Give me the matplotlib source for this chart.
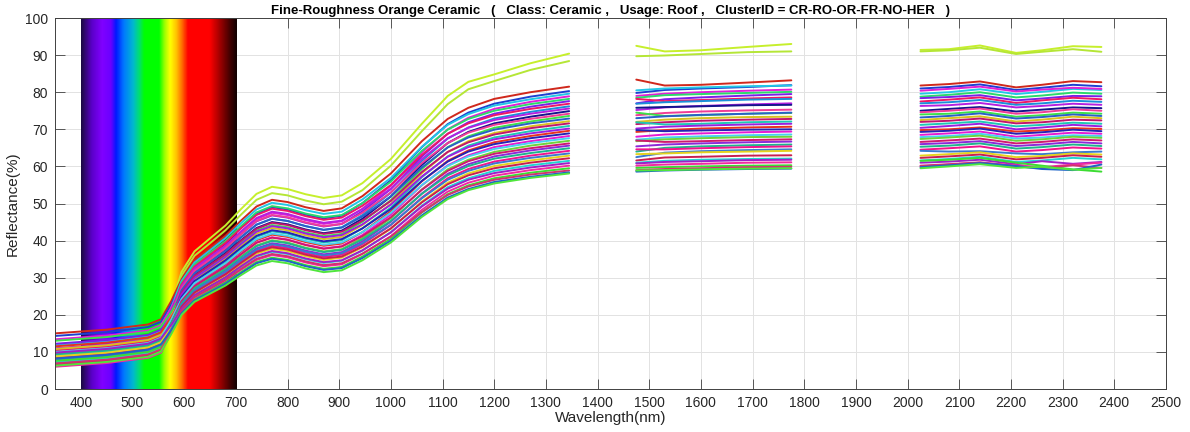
import matplotlib

matplotlib.use("Agg")
import matplotlib.pyplot as plt
import numpy as np
from matplotlib.colors import LinearSegmentedColormap

plt.rcParams["font.family"] = ["Liberation Sans", "DejaVu Sans"]

TITLE = ("Fine-Roughness Orange Ceramic   (   Class: Ceramic ,   Usage: Roof ,   "
         "ClusterID = CR-RO-OR-FR-NO-HER   )")

# wavelength nodes (nm) of the three usable bands, water-absorption gaps left out
WL_VNIR = [350, 450, 530, 555, 575, 595, 620, 650, 680, 710, 740, 770,
           800, 835, 870, 905, 945, 1000, 1060, 1110, 1150, 1200, 1270, 1345]
WL_SWIR1 = [1475, 1530, 1600, 1690, 1775]
WL_SWIR2 = [2025, 2080, 2140, 2210, 2260, 2320, 2375]

# reflectance (%) per sample, one row per spectrum
REFL_VNIR = [
    [10.5, 11.5, 12.9, 14.3, 22.4, 31.6, 37.1, 40.6, 44.1, 48.5, 52.6, 54.5, 53.9, 52.5, 51.5, 52.2, 55.5, 62.0, 71.5, 79.0, 82.8, 84.8, 87.8, 90.4],
    [9.0, 10.0, 11.4, 12.8, 21.2, 30.6, 35.9, 39.3, 42.8, 47.0, 51.0, 52.8, 52.2, 50.8, 49.8, 50.5, 53.6, 60.2, 69.5, 76.8, 80.8, 83.0, 86.0, 88.4],
    [15.0, 16.0, 17.4, 18.8, 23.7, 29.6, 34.7, 38.0, 41.3, 45.4, 49.2, 51.0, 50.4, 49.0, 48.0, 48.7, 52.0, 58.1, 66.8, 72.8, 75.8, 78.2, 80.0, 81.5],
    [14.3, 15.3, 16.7, 18.1, 22.8, 28.4, 33.3, 36.5, 39.7, 43.6, 47.3, 49.0, 48.4, 47.0, 46.0, 46.7, 50.1, 56.3, 65.2, 71.4, 74.5, 76.9, 78.8, 80.3],
    [11.8, 12.8, 14.2, 15.6, 21.9, 29.1, 34.1, 37.4, 40.7, 44.7, 48.4, 50.2, 49.6, 48.2, 47.2, 47.8, 51.1, 56.9, 65.3, 71.2, 74.1, 76.4, 78.1, 79.6],
    [13.4, 14.4, 15.8, 17.2, 21.9, 27.6, 32.3, 35.4, 38.5, 42.3, 45.8, 47.5, 46.9, 45.5, 44.5, 45.2, 48.6, 54.8, 63.8, 70.0, 73.1, 75.5, 77.4, 78.9],
    [9.6, 10.6, 12.0, 13.4, 20.5, 28.6, 33.5, 36.7, 39.9, 43.9, 47.6, 49.3, 48.7, 47.3, 46.3, 46.9, 50.1, 55.9, 64.2, 69.9, 72.8, 75.0, 76.8, 78.2],
    [12.2, 13.2, 14.6, 16.0, 21.1, 27.1, 31.8, 34.9, 37.9, 41.7, 45.2, 46.8, 46.2, 44.8, 43.8, 44.5, 47.9, 53.9, 62.7, 68.8, 71.9, 74.2, 76.1, 77.6],
    [10.4, 11.4, 12.8, 14.2, 20.7, 28.2, 33.0, 36.2, 39.4, 43.3, 46.9, 48.6, 48.0, 46.6, 45.6, 46.2, 49.4, 55.0, 63.1, 68.8, 71.6, 73.8, 75.5, 76.9],
    [8.9, 9.9, 11.3, 12.7, 19.2, 26.6, 31.2, 34.2, 37.2, 40.9, 44.3, 45.9, 45.3, 43.9, 42.9, 43.6, 46.9, 52.9, 61.5, 67.5, 70.5, 72.9, 74.7, 76.2],
    [11.0, 12.0, 13.4, 14.8, 20.8, 27.7, 32.5, 35.6, 38.7, 42.5, 46.1, 47.8, 47.2, 45.8, 44.8, 45.4, 48.5, 54.0, 62.0, 67.6, 70.4, 72.5, 74.2, 75.6],
    [7.8, 8.8, 10.2, 11.6, 18.4, 26.1, 30.6, 33.5, 36.5, 40.1, 43.4, 45.0, 44.4, 43.0, 42.0, 42.7, 45.9, 51.9, 60.4, 66.3, 69.3, 71.6, 73.4, 74.9],
    [9.9, 10.9, 12.3, 13.7, 20.0, 27.2, 31.9, 34.9, 38.0, 41.7, 45.3, 46.9, 46.3, 44.9, 43.9, 44.5, 47.5, 53.0, 60.9, 66.3, 69.1, 71.2, 72.8, 74.2],
    [13.0, 14.0, 15.4, 16.8, 20.8, 25.6, 30.1, 32.9, 35.8, 39.3, 42.7, 44.2, 43.6, 42.2, 41.2, 41.8, 45.1, 50.9, 59.3, 65.2, 68.1, 70.4, 72.1, 73.6],
    [8.4, 9.4, 10.8, 12.2, 19.0, 26.6, 31.2, 34.2, 37.2, 40.9, 44.3, 45.9, 45.3, 43.9, 42.9, 43.5, 46.5, 51.9, 59.7, 65.1, 67.8, 69.9, 71.6, 72.9],
    [10.8, 11.8, 13.2, 14.6, 19.5, 25.2, 29.5, 32.3, 35.2, 38.6, 41.9, 43.4, 42.8, 41.4, 40.4, 41.0, 44.2, 49.9, 58.2, 63.9, 66.8, 69.0, 70.8, 72.2],
    [7.2, 8.2, 9.6, 11.0, 18.1, 26.0, 30.5, 33.4, 36.3, 39.9, 43.2, 44.8, 44.2, 42.8, 41.8, 42.4, 45.4, 50.7, 58.5, 63.9, 66.5, 68.6, 70.3, 71.6],
    [9.2, 10.2, 11.6, 13.0, 18.4, 24.7, 28.9, 31.7, 34.4, 37.8, 41.0, 42.5, 41.9, 40.5, 39.5, 40.1, 43.3, 48.9, 57.1, 62.7, 65.6, 67.8, 69.5, 70.9],
    [6.8, 7.8, 9.2, 10.6, 17.6, 25.5, 29.9, 32.7, 35.6, 39.1, 42.4, 43.9, 43.3, 41.9, 40.9, 41.5, 44.4, 49.7, 57.3, 62.6, 65.2, 67.3, 68.9, 70.2],
    [11.5, 12.5, 13.9, 15.3, 19.3, 24.1, 28.3, 31.0, 33.7, 37.0, 40.1, 41.6, 41.0, 39.6, 38.6, 39.2, 42.3, 47.9, 56.0, 61.5, 64.3, 66.5, 68.2, 69.6],
    [8.0, 9.0, 10.4, 11.8, 17.9, 24.8, 29.1, 31.9, 34.7, 38.1, 41.3, 42.8, 42.2, 40.8, 39.8, 40.4, 43.3, 48.5, 56.1, 61.3, 64.0, 66.0, 67.6, 68.9],
    [7.0, 8.0, 9.4, 10.8, 16.9, 23.7, 27.8, 30.5, 33.1, 36.4, 39.5, 40.9, 40.3, 38.9, 37.9, 38.5, 41.5, 47.0, 54.9, 60.3, 63.0, 65.2, 66.8, 68.2],
    [10.0, 11.0, 12.4, 13.8, 18.7, 24.3, 28.5, 31.2, 33.9, 37.3, 40.4, 41.9, 41.3, 39.9, 38.9, 39.5, 42.3, 47.5, 55.0, 60.1, 62.7, 64.7, 66.3, 67.6],
    [6.5, 7.5, 8.9, 10.3, 16.4, 23.3, 27.3, 29.9, 32.5, 35.7, 38.7, 40.1, 39.5, 38.1, 37.1, 37.7, 40.7, 46.0, 53.8, 59.2, 61.8, 63.9, 65.6, 66.9],
    [8.6, 9.6, 11.0, 12.4, 17.7, 23.7, 27.7, 30.4, 33.0, 36.3, 39.4, 40.8, 40.2, 38.8, 37.8, 38.4, 41.2, 46.3, 53.7, 58.8, 61.4, 63.4, 64.9, 66.2],
    [7.5, 8.5, 9.9, 11.3, 16.7, 22.8, 26.7, 29.3, 31.8, 35.0, 37.9, 39.3, 38.7, 37.3, 36.3, 36.9, 39.8, 45.1, 52.7, 58.0, 60.6, 62.7, 64.3, 65.6],
    [9.4, 10.4, 11.8, 13.2, 17.8, 23.1, 27.1, 29.7, 32.3, 35.5, 38.5, 39.9, 39.3, 37.9, 36.9, 37.5, 40.3, 45.3, 52.6, 57.6, 60.1, 62.1, 63.6, 64.9],
    [6.2, 7.2, 8.6, 10.0, 15.9, 22.4, 26.2, 28.8, 31.3, 34.4, 37.2, 38.6, 38.0, 36.6, 35.6, 36.2, 39.0, 44.2, 51.6, 56.8, 59.3, 61.3, 62.9, 64.2],
    [7.9, 8.9, 10.3, 11.7, 16.8, 22.6, 26.5, 29.1, 31.6, 34.7, 37.6, 39.0, 38.4, 37.0, 36.0, 36.6, 39.3, 44.3, 51.4, 56.4, 58.8, 60.8, 62.3, 63.5],
    [8.8, 9.8, 11.2, 12.6, 17.0, 21.9, 25.7, 28.2, 30.6, 33.6, 36.5, 37.8, 37.2, 35.8, 34.8, 35.4, 38.2, 43.2, 50.5, 55.6, 58.1, 60.1, 61.6, 62.9],
    [6.6, 7.6, 9.0, 10.4, 16.0, 22.2, 26.0, 28.5, 30.9, 34.0, 36.9, 38.2, 37.6, 36.2, 35.2, 35.7, 38.4, 43.3, 50.3, 55.2, 57.6, 59.5, 61.0, 62.2],
    [7.3, 8.3, 9.7, 11.1, 16.0, 21.5, 25.2, 27.6, 30.0, 32.9, 35.7, 37.0, 36.4, 35.0, 34.0, 34.6, 37.3, 42.3, 49.4, 54.4, 56.8, 58.8, 60.3, 61.5],
    [9.8, 10.8, 12.2, 13.6, 17.3, 21.6, 25.3, 27.7, 30.1, 33.1, 35.9, 37.2, 36.6, 35.2, 34.2, 34.7, 37.4, 42.2, 49.2, 54.0, 56.4, 58.2, 59.7, 60.9],
    [6.0, 7.0, 8.4, 9.8, 15.1, 20.9, 24.5, 26.9, 29.2, 32.1, 34.8, 36.1, 35.5, 34.1, 33.1, 33.6, 36.4, 41.2, 48.3, 53.2, 55.6, 57.5, 59.0, 60.2],
    [7.6, 8.6, 10.0, 11.4, 15.7, 20.5, 24.1, 26.4, 28.7, 31.5, 34.2, 35.4, 34.8, 33.4, 32.4, 32.9, 35.7, 40.5, 47.6, 52.5, 54.9, 56.8, 58.3, 59.5],
    [6.9, 7.9, 9.3, 10.7, 15.6, 21.1, 24.8, 27.1, 29.5, 32.4, 35.1, 36.4, 35.8, 34.4, 33.4, 33.9, 36.5, 41.1, 47.7, 52.3, 54.6, 56.4, 57.8, 58.9],
    [8.2, 9.2, 10.6, 12.0, 15.9, 20.4, 23.9, 26.1, 28.4, 31.2, 33.9, 35.1, 34.5, 33.1, 32.1, 32.6, 35.3, 40.0, 46.8, 51.6, 53.9, 55.8, 57.2, 58.4],
    [6.3, 7.3, 8.7, 10.1, 14.8, 20.0, 23.5, 25.7, 27.9, 30.7, 33.3, 34.5, 33.9, 32.5, 31.5, 32.0, 34.7, 39.5, 46.4, 51.2, 53.6, 55.4, 56.9, 58.1],
]

REFL_SWIR1 = [
    [92.5, 91.0, 91.3, 92.2, 93.0], [89.7, 89.9, 90.3, 90.8, 91.0],
    [83.4, 81.8, 82.0, 82.6, 83.2], [79.8, 80.6, 81.0, 81.4, 81.9],
    [80.5, 81.0, 81.3, 81.6, 81.8], [79.0, 79.6, 80.0, 80.4, 80.7],
    [78.5, 79.2, 79.5, 79.8, 80.1], [77.0, 78.1, 78.6, 79.1, 79.5],
    [78.2, 77.6, 77.9, 78.3, 78.6], [76.9, 77.3, 77.6, 78.0, 78.2],
    [75.2, 75.9, 76.3, 76.7, 77.0], [75.8, 76.0, 76.2, 76.5, 76.6],
    [73.8, 74.4, 74.8, 75.1, 75.3], [74.5, 73.6, 73.8, 74.2, 74.4],
    [73.0, 73.5, 73.9, 74.2, 74.5], [72.0, 72.6, 73.0, 73.3, 73.4],
    [71.4, 71.9, 72.3, 72.6, 72.8], [71.9, 71.3, 71.5, 71.9, 72.1],
    [70.2, 70.7, 71.0, 71.3, 71.5], [69.3, 69.8, 70.2, 70.5, 70.7],
    [69.8, 69.5, 69.7, 69.9, 70.0], [68.0, 68.6, 68.9, 69.2, 69.4],
    [67.2, 67.8, 68.1, 68.4, 68.6], [66.8, 67.3, 67.6, 67.9, 68.0],
    [67.0, 66.6, 66.8, 67.1, 67.3], [65.4, 65.9, 66.2, 66.5, 66.7],
    [64.0, 65.0, 65.4, 65.7, 65.9], [64.6, 64.6, 64.9, 65.2, 65.4],
    [62.5, 63.7, 64.1, 64.4, 64.6], [63.3, 63.5, 63.8, 64.0, 64.2],
    [61.6, 62.4, 62.6, 62.9, 63.0], [61.0, 61.5, 61.8, 62.0, 62.1],
    [60.8, 61.2, 61.4, 61.7, 61.8], [60.2, 60.5, 60.7, 61.0, 61.1],
    [59.6, 59.8, 60.0, 60.2, 60.3], [59.0, 59.3, 59.5, 59.8, 59.9],
    [58.6, 58.9, 59.1, 59.3, 59.4], [58.9, 59.0, 59.2, 59.4, 59.5],
]

REFL_SWIR2 = [
    [91.4, 91.6, 92.6, 90.6, 91.3, 92.4, 92.2], [91.0, 91.3, 92.0, 90.3, 90.9, 91.6, 90.9],
    [81.8, 82.2, 82.9, 81.3, 82.0, 83.0, 82.7], [81.0, 81.4, 82.1, 80.6, 81.2, 82.0, 81.6],
    [79.6, 80.0, 80.8, 79.5, 80.1, 80.9, 80.6], [80.4, 80.9, 81.5, 80.2, 80.7, 81.2, 80.9],
    [78.8, 79.3, 80.0, 78.6, 79.1, 79.9, 79.6], [78.4, 78.7, 79.2, 77.8, 78.3, 79.0, 78.9],
    [77.5, 78.0, 78.6, 77.1, 77.8, 78.5, 78.1], [77.0, 77.3, 77.9, 76.6, 77.0, 77.7, 77.4],
    [76.3, 76.5, 77.1, 75.9, 76.3, 76.9, 76.6], [75.0, 75.5, 76.0, 74.8, 75.3, 75.9, 75.7],
    [74.6, 75.0, 75.6, 74.2, 74.6, 75.4, 75.0], [74.0, 74.2, 74.8, 73.4, 73.8, 74.5, 74.2],
    [73.2, 73.6, 74.3, 72.9, 73.3, 74.0, 73.6], [72.5, 73.0, 73.5, 72.1, 72.6, 73.4, 73.0],
    [72.0, 72.3, 72.9, 71.6, 71.9, 72.6, 72.4], [71.2, 71.6, 72.1, 70.8, 71.2, 71.8, 71.5],
    [70.4, 70.9, 71.5, 70.0, 70.5, 71.2, 70.8], [69.8, 70.0, 70.5, 69.4, 69.7, 70.3, 70.1],
    [69.3, 69.6, 70.2, 68.8, 69.2, 69.9, 69.5], [68.5, 68.9, 69.4, 68.0, 68.5, 69.1, 68.8],
    [67.9, 68.2, 68.8, 67.5, 67.8, 68.4, 68.2], [67.4, 67.8, 68.3, 66.9, 67.3, 68.0, 67.7],
    [66.6, 67.0, 67.5, 66.2, 66.6, 67.3, 67.0], [66.0, 66.3, 66.8, 65.5, 65.9, 66.6, 66.2],
    [65.3, 65.6, 66.2, 64.8, 65.2, 65.9, 65.5], [64.5, 64.9, 65.4, 64.0, 64.4, 65.1, 64.8],
    [64.2, 64.0, 64.1, 63.5, 63.3, 63.8, 64.0], [62.9, 63.3, 63.8, 62.5, 62.8, 63.5, 63.2],
    [62.3, 62.7, 63.2, 61.9, 62.3, 63.0, 62.6], [61.6, 62.0, 62.6, 61.2, 61.6, 62.3, 61.9],
    [61.0, 61.3, 61.8, 60.6, 61.4, 60.7, 61.2], [60.0, 60.5, 61.0, 60.3, 59.8, 60.5, 61.0],
    [61.5, 61.8, 62.3, 61.0, 60.2, 59.2, 58.6], [60.2, 60.6, 61.1, 60.0, 59.5, 60.3, 59.6],
    [59.8, 60.3, 60.9, 60.1, 59.3, 59.0, 60.5], [59.5, 60.0, 60.6, 59.6, 59.9, 59.1, 59.6],
]

LINE_COLORS = [
    "#c6ef2c", "#b5e636", "#d0281c", "#1e3fd0", "#22c6e6", "#e01fd6", "#2bd96b", "#7b1fe8",
    "#ee1766", "#1a8fd8", "#b420e0", "#14148c", "#f03c96", "#3ce04a", "#2a5fc8", "#d8c020",
    "#c0166e", "#1ec8b4", "#9b1fe0", "#e8321e", "#2424b4", "#e61ad2", "#46d2f0", "#6ed23c",
    "#d0186e", "#8c2ad8", "#1eb48c", "#f0148c", "#3a7ad0", "#e4d21e", "#c81e50", "#23d4d0",
    "#a01ec8", "#f02aa0", "#3cdc32", "#d2326e", "#1e64c8", "#50e63c",
]

X_TICKS = list(range(400, 2600, 100))
Y_TICKS = list(range(0, 110, 10))

# visible-light colour band painted behind the curves
SPECTRUM_STOPS = [
    (400, "#1c0a44"), (420, "#5a00c8"), (440, "#8000ff"), (457, "#6a00ff"),
    (467, "#0018ff"), (482, "#0078ff"), (500, "#00b8d0"), (512, "#00e070"),
    (522, "#00ff00"), (550, "#00ff00"), (562, "#a8ff00"), (572, "#ffff00"),
    (584, "#ffc000"), (596, "#ff6000"), (606, "#ff0000"), (648, "#ff0000"),
    (668, "#a00000"), (688, "#400000"), (700, "#120000"),
]


def spectrum_cmap():
    lo, hi = SPECTRUM_STOPS[0][0], SPECTRUM_STOPS[-1][0]
    stops = [((wl - lo) / (hi - lo), c) for wl, c in SPECTRUM_STOPS]
    return LinearSegmentedColormap.from_list("visible", stops)


def main():
    fig = plt.figure(figsize=(11.9, 4.32), dpi=100)
    ax = fig.add_axes([0.0462, 0.0995, 0.9336, 0.8588])

    band = np.linspace(0, 1, 400).reshape(1, -1)
    ax.imshow(band, cmap=spectrum_cmap(), extent=[400, 700, 0, 100],
              aspect="auto", interpolation="bilinear", zorder=1)

    for i, color in enumerate(LINE_COLORS):
        for wl, refl in ((WL_VNIR, REFL_VNIR), (WL_SWIR1, REFL_SWIR1), (WL_SWIR2, REFL_SWIR2)):
            ax.plot(wl, refl[i], color=color, lw=1.4, zorder=2,
                    solid_joinstyle="round", solid_capstyle="round")

    ax.set_xlim(350, 2500)
    ax.set_ylim(0, 100)
    ax.set_xticks(X_TICKS)
    ax.set_yticks(Y_TICKS)
    ax.set_axisbelow(True)
    ax.grid(True, color="#e2e2e2", lw=0.7)
    ax.tick_params(direction="in", top=True, right=True, length=7, width=0.6,
                   labelsize=10, color="#404040", labelcolor="#262626", pad=5)
    for spine in ax.spines.values():
        spine.set_color("#404040")
        spine.set_linewidth(0.7)
        spine.set_zorder(3)

    ax.set_xlabel("Wavelength(nm)", fontsize=11, color="#262626", labelpad=1)
    ax.set_ylabel("Reflectance(%)", fontsize=11, color="#262626", labelpad=4)
    ax.set_title(TITLE, fontsize=9.5, fontweight="bold", pad=3)

    fig.savefig("out.png", dpi=100)
    plt.close(fig)


if __name__ == "__main__":
    main()
